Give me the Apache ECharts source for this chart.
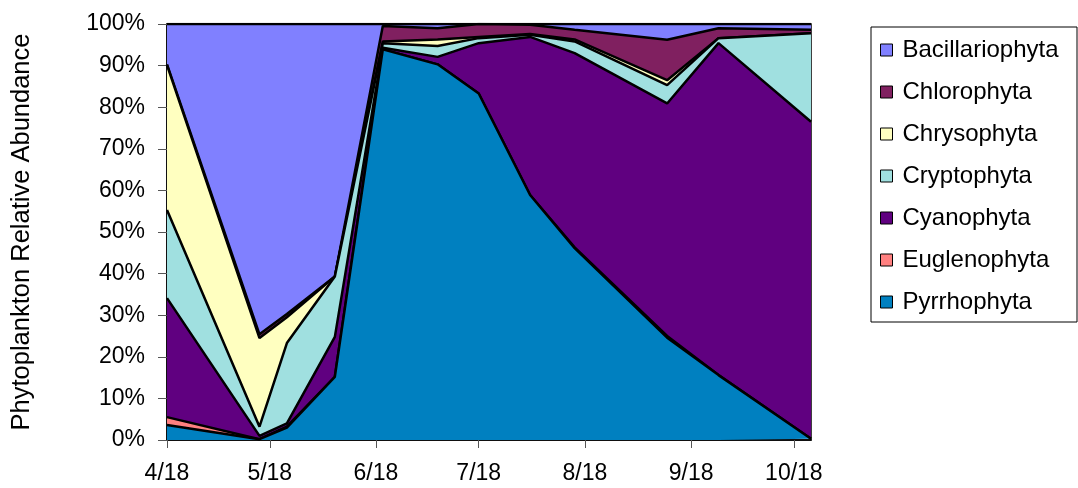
<!DOCTYPE html>
<html>
<head>
<meta charset="utf-8">
<script src="https://cdn.jsdelivr.net/npm/echarts@6/dist/echarts.min.js"></script>
<style>
html,body{margin:0;padding:0;background:#fff;}
#c{width:1078px;height:488px;}
</style>
</head>
<body>
<div id="c"></div>
<script>
// Sample dates expressed as days after 4/18
const sampleDays = [0, 27, 35, 49, 63, 79, 91, 106, 119, 146, 161, 188];
// Tick positions (days after 4/18) and labels
const tickDays = [0, 30, 61, 91, 122, 153, 183];
const tickLabels = ['4/18', '5/18', '6/18', '7/18', '8/18', '9/18', '10/18'];

// Relative abundance (%) per division, stacked from bottom to top
const pyrrhophyta     = [3.6, 0.2, 3.0, 15.2, 93.9, 90.3, 83.3, 58.9, 46.1, 24.6, 15.6, 0.3];
const euglenophyta    = [1.9, 0.0, 0.2, 0.0, 0.0, 0.0, 0.0, 0.0, 0.2, 0.4, 0.0, 0.0];
const cyanophyta      = [28.6, 0.8, 0.8, 9.6, 0.4, 1.8, 12.1, 38.0, 46.7, 55.9, 79.8, 76.2];
const cryptophyta     = [21.2, 2.2, 19.3, 14.5, 1.1, 2.6, 1.2, 0.5, 2.8, 4.4, 1.2, 21.3];
const chrysophyta     = [34.8, 21.3, 6.2, 0.0, 0.4, 1.6, 0.3, 0.2, 0.5, 1.2, 0.0, 0.0];
const chlorophyta     = [0.2, 0.9, 0.8, 0.0, 3.7, 2.7, 3.1, 2.2, 2.3, 9.7, 2.4, 0.8];
const bacillariophyta = [9.7, 74.6, 69.7, 60.7, 0.5, 1.0, 0.0, 0.2, 1.4, 3.8, 1.0, 1.4];

const seriesNames = ['Pyrrhophyta', 'Euglenophyta', 'Cyanophyta', 'Cryptophyta', 'Chrysophyta', 'Chlorophyta', 'Bacillariophyta'];
const seriesValues = [pyrrhophyta, euglenophyta, cyanophyta, cryptophyta, chrysophyta, chlorophyta, bacillariophyta];
const seriesColors = ['#0080C0', '#FF8080', '#600080', '#A0E0E0', '#FFFFC0', '#802060', '#8080FF'];

const FONT = "'Liberation Sans', Arial, sans-serif";

const chart = echarts.init(document.getElementById('c'), null, {renderer: 'canvas'});

// value first so that stacking happens on the y dimension
const series = seriesNames.map((name, i) => ({
  name: name,
  type: 'line',
  stack: 'total',
  dimensions: ['abundance', 'day'],
  encode: {x: 'day', y: 'abundance'},
  data: sampleDays.map((d, j) => [seriesValues[i][j], d]),
  showSymbol: false,
  symbol: 'none',
  color: seriesColors[i],
  lineStyle: {color: '#000', width: 2.5},
  areaStyle: {color: seriesColors[i], opacity: 1},
  z: 10 - i,
  animation: false
}));

chart.setOption({
  animation: false,
  grid: {left: 167, right: 267, top: 24, bottom: 48, show: true, borderColor: '#000', borderWidth: 1.5, backgroundColor: 'transparent'},
  xAxis: {
    type: 'value',
    min: 0,
    max: 188,
    splitLine: {show: false},
    axisLine: {lineStyle: {color: '#000', width: 1.5}},
    axisTick: {show: true, length: 8, customValues: tickDays, lineStyle: {color: '#555'}},
    axisLabel: {
      customValues: tickDays,
      margin: 22,
      fontSize: 23,
      fontFamily: FONT,
      color: '#000',
      formatter: v => tickLabels[tickDays.indexOf(v)]
    }
  },
  yAxis: {
    type: 'value',
    min: 0,
    max: 100,
    interval: 10,
    name: 'Phytoplankton Relative Abundance',
    nameLocation: 'middle',
    nameGap: 132,
    nameTextStyle: {fontSize: 25.5, fontFamily: FONT, color: '#000'},
    splitLine: {show: false},
    axisLine: {show: true, lineStyle: {color: '#000', width: 1.5}},
    axisTick: {show: true, length: 9, lineStyle: {color: '#555'}},
    axisLabel: {margin: 22, fontSize: 23, fontFamily: FONT, color: '#000', formatter: '{value}%'}
  },
  legend: {
    orient: 'vertical',
    left: 880,
    top: 38,
    icon: 'rect',
    itemWidth: 12,
    itemHeight: 12,
    itemGap: 18,
    padding: 0,
    itemStyle: {borderColor: '#000', borderWidth: 1},
    textStyle: {fontSize: 24, lineHeight: 24, fontFamily: FONT, color: '#000', padding: [0, 0, 0, 5]},
    data: seriesNames.slice().reverse()
  },
  graphic: [{
    type: 'rect',
    shape: {x: 871, y: 27, width: 206, height: 295},
    style: {fill: 'none', stroke: '#000', lineWidth: 1},
    z: 100
  }],
  series: series
});
</script>
</body>
</html>
